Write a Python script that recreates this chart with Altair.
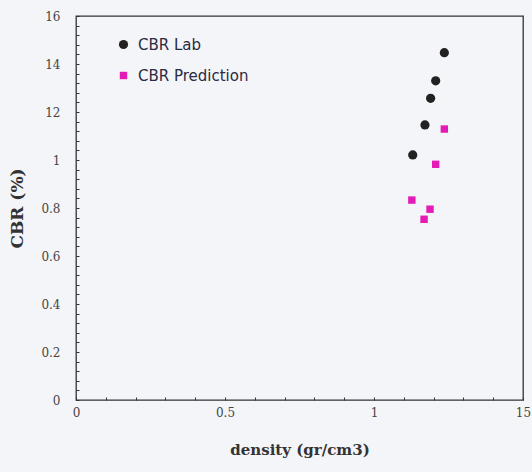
import altair as alt
import pandas as pd

# Data
lab_density = [1.236, 1.207, 1.190, 1.171, 1.130]
lab_cbr = [1.447, 1.330, 1.257, 1.146, 1.021]
pred_density = [1.236, 1.207, 1.127, 1.188, 1.168]
pred_cbr = [1.129, 0.982, 0.833, 0.795, 0.753]
series_names = ["CBR Lab", "CBR Prediction"]

x_ticks = [round(i * 0.1, 2) for i in range(16)]
y_ticks = [round(i * 0.04, 2) for i in range(41)]

df = pd.DataFrame({
    "density": lab_density + pred_density,
    "cbr": lab_cbr + pred_cbr,
    "series": [series_names[0]] * len(lab_density) + [series_names[1]] * len(pred_density),
})

y_label_expr = (
    "abs(datum.value*5 - round(datum.value*5)) < 0.001 ? "
    "(datum.value > 1.05 ? replace(format(datum.value, '.1f'), '.', '') : format(datum.value, '~g')) : ''"
)
x_label_expr = (
    "abs(datum.value*2 - round(datum.value*2)) < 0.001 ? "
    "(datum.value > 1.05 ? replace(format(datum.value, '.1f'), '.', '') : format(datum.value, '~g')) : ''"
)

legend = alt.Legend(title=None, orient="none", legendX=40, legendY=21,
                    rowPadding=15, labelFont="DejaVu Sans",
                    labelFontSize=15, labelColor="#2a2a40", labelOffset=7)

chart = alt.Chart(df).mark_point(filled=True, opacity=1).encode(
    x=alt.X("density:Q",
            scale=alt.Scale(domain=[0, 1.5], nice=False, zero=False),
            axis=alt.Axis(title="density (gr/cm3)", values=x_ticks, labelExpr=x_label_expr,
                          domain=False, offset=-3, tickSize=3, labelPadding=7,
                          labelOverlap=False, labelFlush=False, grid=False,
                          titlePadding=24, titleFontSize=15)),
    y=alt.Y("cbr:Q",
            scale=alt.Scale(domain=[0, 1.6], nice=False, zero=False),
            axis=alt.Axis(title="CBR (%)", values=y_ticks, labelExpr=y_label_expr,
                          domain=False, offset=-3, tickSize=3, labelPadding=16,
                          labelOverlap=False, labelFlush=False, grid=False,
                          titlePadding=14, titleFontSize=17)),
    color=alt.Color("series:N",
                    scale=alt.Scale(domain=series_names, range=["#222222", "#e41bb5"]),
                    legend=legend),
    shape=alt.Shape("series:N",
                    scale=alt.Scale(domain=series_names, range=["circle", "square"]),
                    legend=legend),
    size=alt.Size("series:N",
                  scale=alt.Scale(domain=series_names, range=[85, 55]),
                  legend=legend),
).properties(
    width=447,
    height=384,
    background="#f4f5f8",
    padding={"left": 76, "top": 16, "right": 9, "bottom": 72},
    autosize=alt.AutoSizeParams(type="none"),
).configure_view(
    stroke="#333333",
    strokeWidth=1.3,
).configure_axis(
    labelFont="DejaVu Serif",
    labelFontSize=12,
    labelColor="#444444",
    tickColor="#333333",
    titleFont="DejaVu Serif",
    titleFontWeight="bold",
    titleColor="#333333",
)

chart.save("out.html", embed_options={"renderer": "svg", "actions": False})
